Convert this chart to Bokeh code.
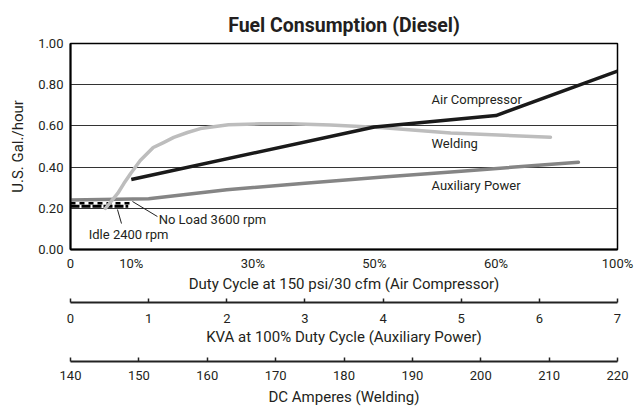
import numpy as np
from bokeh.plotting import figure
from bokeh.models import Range1d, LinearAxis, FixedTicker, Label
from bokeh.embed import file_html
from bokeh.resources import INLINE

FONT = "Roboto"
TXT = "#231f20"

# ---------------- data ----------------
duty_ticks = [0, 10, 30, 50, 60, 100]
duty_labels = ["0", "10%", "30%", "50%", "60%", "100%"]
duty_slots = [0, 1, 3, 5, 7, 9]          # slot of each duty tick on the (nonlinear) duty axis
kva_ticks = [0, 1, 2, 3, 4, 5, 6, 7]
amp_ticks = [140, 150, 160, 170, 180, 190, 200, 210, 220]
y_ticks = [0.0, 0.2, 0.4, 0.6, 0.8, 1.0]

air_duty = [10, 50, 60, 100]
air_gph = [0.34, 0.595, 0.65, 0.866]

aux_kva = [0.0, 1.0, 2.0, 3.0, 4.0, 5.0, 6.5]
aux_gph = [0.240, 0.246, 0.290, 0.322, 0.352, 0.380, 0.424]

weld_amps = [145.1, 146.9, 147.8, 148.8, 150.2, 152.1, 153.6, 155.1, 157.1, 159.0,
             163.1, 167.8, 172.2, 178.0, 185.3, 195.6, 210.2]
weld_gph = [0.199, 0.272, 0.320, 0.369, 0.432, 0.495, 0.519, 0.544, 0.568, 0.587,
            0.606, 0.610, 0.610, 0.604, 0.592, 0.565, 0.545]

idle_duty = [0, 9.5]
idle_gph = [0.210, 0.210]
noload_duty = [0, 10]
noload_gph = [0.224, 0.224]


def slot(d):
    return np.interp(d, duty_ticks, duty_slots)


p = figure(width=634, height=408, output_backend="svg", toolbar_location=None,
           x_range=Range1d(0, 9), y_range=Range1d(0, 1),
           min_border_left=70, min_border_right=17, min_border_top=43, min_border_bottom=0)
p.extra_x_ranges = {"kva": Range1d(0, 7), "amps": Range1d(140, 220)}

p.title.text = "Fuel Consumption (Diesel)"
p.title.align = "center"
p.title.text_font = FONT
p.title.text_font_size = "19.5px"
p.title.text_font_style = "bold"
p.title.text_color = TXT
p.title.standoff = 14

p.outline_line_color = "black"
p.outline_line_width = 1.5
p.xgrid.visible = False
p.ygrid.ticker = FixedTicker(ticks=y_ticks)
p.ygrid.grid_line_color = "#333333"
p.ygrid.grid_line_width = 1

# y axis
ya = p.yaxis[0]
ya.ticker = FixedTicker(ticks=y_ticks)
ya.major_label_overrides = {t: f"{t:.2f}" for t in y_ticks}
ya.axis_label = "U.S. Gal./hour"
ya.major_tick_in = 0
ya.major_tick_out = 0
ya.minor_tick_line_color = None
ya.axis_line_color = "black"
ya.axis_line_width = 2
ya.major_label_standoff = 7
ya.axis_label_standoff = 8
ya.major_label_text_font = FONT
ya.major_label_text_font_size = "13px"
ya.major_label_text_color = TXT
ya.axis_label_text_font = FONT
ya.axis_label_text_font_size = "15px"
ya.axis_label_text_font_style = "normal"
ya.axis_label_text_color = TXT


def style_axis(ax, lab_standoff, title_standoff):
    ax.major_label_text_font = FONT
    ax.major_label_text_font_size = "13px"
    ax.major_label_text_color = TXT
    ax.axis_label_text_font = FONT
    ax.axis_label_text_font_size = "15px"
    ax.axis_label_text_font_style = "normal"
    ax.axis_label_text_color = TXT
    ax.major_label_standoff = lab_standoff
    ax.axis_label_standoff = title_standoff


# duty axis (main)
xa = p.xaxis[0]
xa.ticker = FixedTicker(ticks=duty_slots)
xa.major_label_overrides = {s: l for s, l in zip(duty_slots, duty_labels)}
xa.axis_label = "Duty Cycle at 150 psi/30 cfm (Air Compressor)"
xa.major_tick_in = 0
xa.major_tick_out = 0
xa.minor_tick_line_color = None
xa.axis_line_color = "black"
xa.axis_line_width = 2
style_axis(xa, 6, 1)


def spacer(h):
    # blank axis (one invisible white tick) used only to leave a gap between the scales
    return LinearAxis(ticker=FixedTicker(ticks=[0.02]), major_tick_out=h, major_tick_in=0,
                      axis_line_color=None, major_tick_line_color="white",
                      major_tick_line_width=0.5,
                      minor_tick_line_color=None, major_label_text_font_size="0px",
                      major_label_overrides={0.02: ""},
                      major_label_standoff=0, axis_label=None)


kva_axis = LinearAxis(x_range_name="kva", ticker=FixedTicker(ticks=kva_ticks),
                      axis_label="KVA at 100% Duty Cycle (Auxiliary Power)",
                      major_tick_in=4, major_tick_out=0, minor_tick_line_color=None,
                      axis_line_width=2, axis_line_color="#222222",
                      major_tick_line_color="#222222", major_tick_line_width=1.5)
style_axis(kva_axis, 11, 2)

amp_axis = LinearAxis(x_range_name="amps", ticker=FixedTicker(ticks=amp_ticks),
                      axis_label="DC Amperes (Welding)",
                      major_tick_in=4, major_tick_out=0, minor_tick_line_color=None,
                      axis_line_width=2, axis_line_color="#222222",
                      major_tick_line_color="#222222", major_tick_line_width=1.5)
style_axis(amp_axis, 9, 5)

p.add_layout(spacer(7), "below")
p.add_layout(kva_axis, "below")
p.add_layout(spacer(13), "below")
p.add_layout(amp_axis, "below")

# ---------------- series ----------------
p.line(slot(idle_duty), idle_gph, line_color="black", line_width=3, line_dash="9 2")
p.line(slot(noload_duty), noload_gph, line_color="black", line_width=2.5, line_dash="5 4")
p.line(aux_kva, aux_gph, x_range_name="kva", line_color="#858585", line_width=3.5,
       line_join="round", line_cap="round")
p.line(weld_amps, weld_gph, x_range_name="amps", line_color="#bdbdbd", line_width=3.5,
       line_join="round", line_cap="round")
p.line(slot(air_duty), air_gph, line_color="#1a1a1a", line_width=3.5, line_join="round")

# leader lines for idle / no load notes
p.segment(x0=[1.02, 0.773], y0=[0.233, 0.194], x1=[1.43, 0.839], y1=[0.160, 0.126],
          line_color="#222222", line_width=1)

labels = [
    ("Air Compressor", 5.94, 0.728),
    ("Welding", 5.94, 0.515),
    ("Auxiliary Power", 5.94, 0.311),
    ("No Load 3600 rpm", 1.45, 0.146),
    ("Idle 2400 rpm", 0.30, 0.073),
]
for txt, x, y in labels:
    p.add_layout(Label(x=x, y=y, text=txt, text_font=FONT, text_font_size="13px",
                       text_color=TXT, text_baseline="middle", text_align="left"))

open("out.html", "w").write(file_html(p, INLINE))
